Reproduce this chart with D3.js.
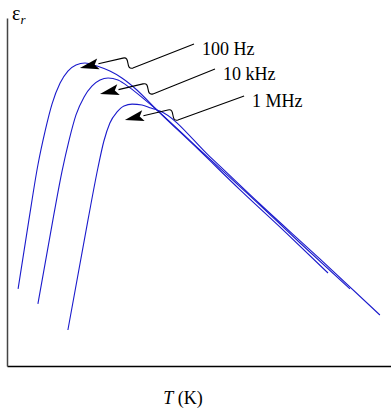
<!DOCTYPE html>
<html>
<head>
<meta charset="utf-8">
<script src="https://cdn.jsdelivr.net/npm/d3@7"></script>
<style>
  body { margin: 0; background: #fff; }
  text { font-family: "Liberation Serif", "Times New Roman", serif; }
</style>
</head>
<body>
<div id="chart"></div>
<script>
// curve data, arbitrary units (no ticks on the original)
var t100Hz = [3.7, 7.3, 10.3, 12.7, 15, 17.7, 20.3, 23, 26, 30, 34.3, 38.3, 43.3, 49.3, 64.3, 77.7, 92.7, 107];
var e100Hz = [25.7, 48.7, 67, 78.3, 87.3, 94.3, 98.3, 100.3, 101, 100, 98.3, 96, 92, 86, 71.7, 58.7, 44.7, 31];

var t10kHz = [10.3, 15.3, 18.3, 20.7, 23, 25.7, 28.3, 31, 33.7, 37, 41, 45.3, 50, 64.3, 81, 97.7, 114.3];
var e10kHz = [20.7, 48.7, 64.7, 75.3, 83.7, 89.7, 93.3, 95.3, 96, 95.3, 92.7, 89.3, 85.3, 72, 56.7, 41, 25.7];

var t1MHz = [20.3, 27, 30.3, 32.3, 34.3, 36.7, 39, 41.7, 45, 48, 51, 67.7, 84.3, 104.3, 124.3];
var e1MHz = [12, 48.7, 66, 75, 81, 84.7, 86.7, 87.3, 87, 86, 85, 69.7, 54, 35.7, 17];

// annotations: label text, label anchor, arrow tip
var labels = ["100 Hz", "10 kHz", "1 MHz"];
var labelT = [65, 72, 81.7];
var labelE = [103.7, 95.3, 86.3];
var tipT = [24.3, 31, 39.3];
var tipE = [99.3, 90.7, 82];

var xDomain = [0, 128], yDomain = [0, 116];

var margin = {top: 18, right: 0, bottom: 46, left: 7},
    width = 391 - margin.left - margin.right,
    height = 412 - margin.top - margin.bottom;

var svg = d3.select("#chart")
  .append("svg")
    .attr("width", 391)
    .attr("height", 412)
  .append("g")
    .attr("transform", "translate(" + margin.left + "," + margin.top + ")");

var x = d3.scaleLinear().domain(xDomain).range([0, width]);
var y = d3.scaleLinear().domain(yDomain).range([height, 0]);

// axes: plain lines, no ticks
svg.append("g")
    .attr("transform", "translate(0," + height + ")")
    .call(d3.axisBottom(x).tickValues([]).tickSizeOuter(0))
    .select(".domain").attr("stroke", "#000").attr("stroke-width", 1.5);

svg.append("g")
    .call(d3.axisLeft(y).tickValues([]).tickSizeOuter(0))
    .select(".domain").attr("stroke", "#444").attr("stroke-width", 1.5);

// axis labels
var yl = svg.append("text")
    .attr("x", 5)
    .attr("y", 2)
    .style("font-size", "20px");
yl.append("tspan").text("ε");
yl.append("tspan").attr("dy", 4).style("font-style", "italic").style("font-size", "13px").text("r");

var xl = svg.append("text")
    .attr("x", width / 2 - 16)
    .attr("y", height + 38)
    .style("text-anchor", "middle")
    .style("font-size", "18px");
xl.append("tspan").style("font-style", "italic").text("T");
xl.append("tspan").text(" (K)");

// curves
var series = [
  {t: t100Hz, e: e100Hz},
  {t: t10kHz, e: e10kHz},
  {t: t1MHz, e: e1MHz}
];

var line = d3.line()
    .x(function(d) { return x(d[0]); })
    .y(function(d) { return y(d[1]); })
    .curve(d3.curveMonotoneX);

svg.selectAll(".curve")
    .data(series)
    .enter()
    .append("path")
      .attr("class", "curve")
      .attr("fill", "none")
      .attr("stroke", "#1a1acc")
      .attr("stroke-width", 1.1)
      .attr("d", function(s) { return line(s.t.map(function(v, i) { return [v, s.e[i]]; })); });

// arrows with a little wiggle in them
labels.forEach(function(lab, i) {
  var lx = x(labelT[i]), ly = y(labelE[i]);
  var tx = x(tipT[i]), ty = y(tipE[i]);
  var sx = lx - 8, sy = ly - 11;   // start of leader
  var ax = tx + 53, ay = ty;       // bottom of wiggle
  var bx = tx + 43, by = ty - 10;  // top of wiggle

  // direction of arrow
  var dx = tx - bx, dy = ty - by, len = Math.sqrt(dx * dx + dy * dy);
  var ux = dx / len, uy = dy / len;
  var hl = 19, hw = 5.5;
  var baseX = tx - ux * hl, baseY = ty - uy * hl;

  svg.append("path")
      .attr("fill", "none")
      .attr("stroke", "#000")
      .attr("stroke-width", 1.1)
      .attr("d", "M" + sx + "," + sy +
                 "L" + ax + "," + ay +
                 "C" + (ax - 8) + "," + (ay + 2) + " " + (bx + 8) + "," + (by - 2) + " " + bx + "," + by +
                 "L" + baseX + "," + baseY);

  svg.append("path")
      .attr("fill", "#000")
      .attr("d", "M" + tx + "," + ty +
                 "L" + (baseX - uy * hw) + "," + (baseY + ux * hw) +
                 "L" + (tx - ux * hl * 0.8) + "," + (ty - uy * hl * 0.8) +
                 "L" + (baseX + uy * hw) + "," + (baseY - ux * hw) + "Z");

  svg.append("text")
      .attr("x", lx)
      .attr("y", ly)
      .style("font-size", "18px")
      .text(lab);
});
</script>
</body>
</html>
